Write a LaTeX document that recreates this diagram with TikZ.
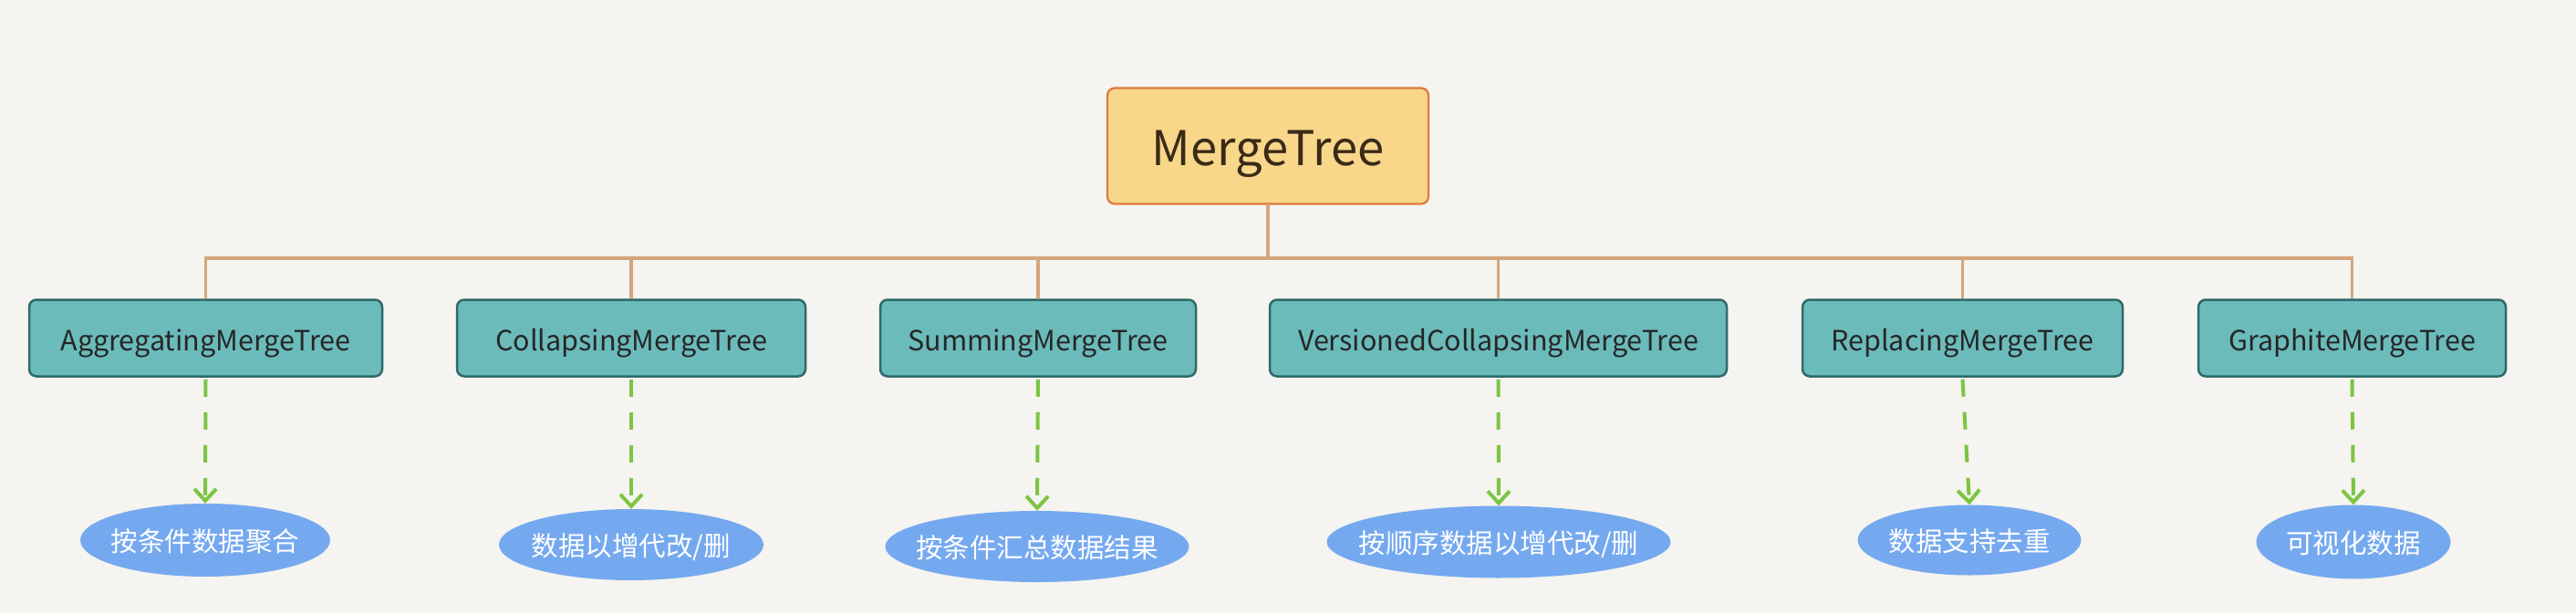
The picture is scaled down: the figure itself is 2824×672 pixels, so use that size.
\documentclass[tikz,border=0pt]{standalone}
\usepackage{fontspec}
\setmainfont{Noto Sans CJK SC}
\usetikzlibrary{shapes.geometric,arrows.meta}
\definecolor{bg}{HTML}{F5F4F0}
\definecolor{rootfill}{HTML}{F8D78A}
\definecolor{rootline}{HTML}{DC7A3C}
\definecolor{conncol}{HTML}{D4A57C}
\definecolor{childfill}{HTML}{6BBBBB}
\definecolor{childline}{HTML}{2F6A6A}
\definecolor{ellfill}{HTML}{75A9EF}
\definecolor{arrcol}{HTML}{7DC443}
\definecolor{txtdark}{HTML}{262626}
\definecolor{roottxt}{HTML}{3A2A18}
\tikzset{
  rootbox/.style={draw=rootline, fill=rootfill, line width=2.2pt, rounded corners=8pt,
    minimum width=352pt, minimum height=127pt, inner sep=0pt, text=roottxt,
    text height=42.4pt, text depth=0pt,
    font=\fontsize{52.5}{62}\selectfont},
  childbox/.style={draw=childline, fill=childfill, line width=2.5pt, rounded corners=8pt,
    minimum height=84pt, inner sep=0pt, text=txtdark,
    text height=27.2pt, text depth=0pt,
    font=\fontsize{30.5}{36}\selectfont},
  ellnode/.style={ellipse, fill=ellfill, inner sep=0pt, text=white,
    text height=24.4pt, text depth=0pt,
    font=\fontsize{29.5}{35}\selectfont},
  conn/.style={draw=conncol, line width=3.5pt},
  arr/.style={draw=arrcol, line width=4pt, dash pattern=on 19pt off 17pt,
    -{Straight Barb[length=13pt,width=24pt]}}
}
\begin{document}
\begin{tikzpicture}[x=1pt,y=-1pt]
\fill[bg] (0,0) rectangle (2824,672);
\useasboundingbox (0,0) rectangle (2824,672);
\node[rootbox] (root) at (1390,160) {MergeTree};
\node[childbox, minimum width=387pt] (c1) at (225.5,370.5) {AggregatingMergeTree};
\node[childbox, minimum width=382pt] (c2) at (692,370.5) {CollapsingMergeTree};
\node[childbox, minimum width=346pt] (c3) at (1138,370.5) {SummingMergeTree};
\node[childbox, minimum width=501pt] (c4) at (1642.5,370.5) {VersionedCollapsingMergeTree};
\node[childbox, minimum width=351pt] (c5) at (2151.5,370.5) {ReplacingMergeTree};
\node[childbox, minimum width=337pt] (c6) at (2578.5,370.5) {GraphiteMergeTree};
\node[ellnode, minimum width=274pt, minimum height=80pt] (e1) at (225,592) {\makebox[0pt]{按条件数据聚合}};
\node[ellnode, minimum width=290pt, minimum height=78pt] (e2) at (692,597) {\makebox[0pt]{数据以增代改/删}};
\node[ellnode, minimum width=333pt, minimum height=78pt] (e3) at (1137,599) {\makebox[0pt]{按条件汇总数据结果}};
\node[ellnode, minimum width=377pt, minimum height=79pt] (e4) at (1643,594) {\makebox[0pt]{按顺序数据以增代改/删}};
\node[ellnode, minimum width=245pt, minimum height=77pt] (e5) at (2159,592) {\makebox[0pt]{数据支持去重}};
\node[ellnode, minimum width=213pt, minimum height=81pt] (e6) at (2580,594) {\makebox[0pt]{可视化数据}};
\coordinate (bar) at (1390,283);
\draw[conn] (root.south) -- (bar);
\draw[conn, line cap=rect] (c1.north |- bar) -- (c6.north |- bar);
\foreach \c in {c1,c2,c3,c4,c5,c6} {\draw[conn] (\c.north) -- (\c.north |- bar);}
\foreach \i in {1,...,6} {\draw[arr] ([yshift=-2pt]c\i.south) -- (e\i.north);}
\end{tikzpicture}
\end{document}
